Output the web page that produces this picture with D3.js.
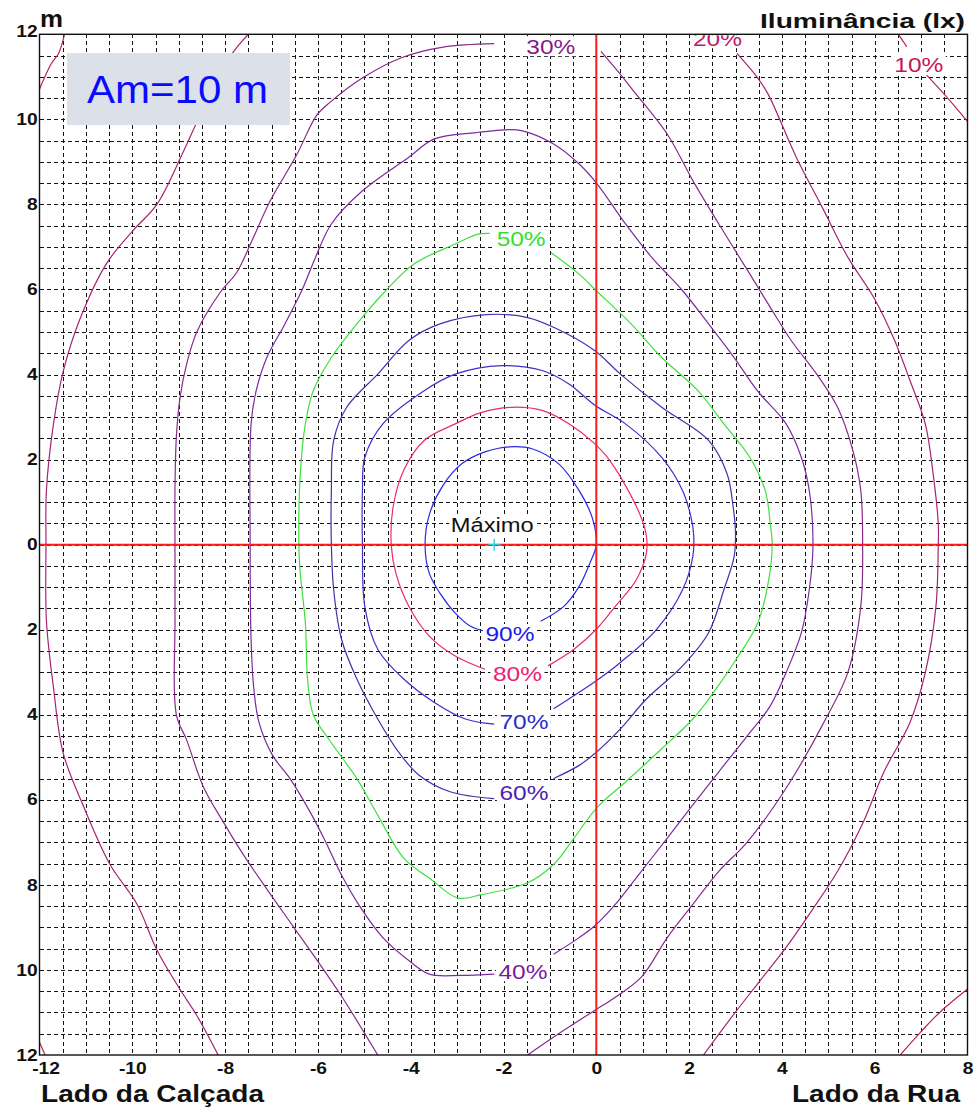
<!DOCTYPE html>
<html>
<head>
<meta charset="utf-8">
<script src="https://cdn.jsdelivr.net/npm/d3@7"></script>
<style>
  body { margin: 0; background: #fff; }
  svg { display: block; font-family: "Liberation Sans", Arial, sans-serif; }
</style>
</head>
<body>
<svg id="chart" width="973" height="1108"></svg>
<script>
// Isolux levels, % of the maximum illuminance
const levels = [90, 80, 70, 60, 50, 40, 30, 20, 10];

// Contour pieces in metres: [transversal x, longitudinal y]; y > 0 is forward, y < 0 behind
const contour90 = [[
  [-1.2,-1.8],[-0.7,-1.45],[-0.37,-0.98],[-0.14,-0.44],[0.0,0.0],[-0.09,0.64],[-0.37,1.27],[-0.81,1.9],
  [-1.37,2.25],[-1.87,2.3],[-2.4,2.18],[-2.9,1.9],[-3.3,1.4],[-3.6,0.7],[-3.69,0],[-3.6,-0.67],
  [-3.37,-1.14],[-3.04,-1.61],[-2.71,-1.92],[-2.45,-2.02]
]];
const contour80 = [[
  [-1.04,-2.85],[-0.48,-2.46],[0,-1.99],[0.41,-1.45],[0.86,-0.83],[1.08,-0.2],[1.08,0.2],[0.98,0.6],
  [0.69,1.27],[0.24,2.05],[-0.03,2.37],[-0.59,2.84],[-1.15,3.15],[-1.82,3.23],[-2.5,3.1],[-3.04,2.84],
  [-3.71,2.45],[-4.15,1.75],[-4.38,0.88],[-4.42,0],[-4.32,-0.67],[-4.04,-1.45],[-3.6,-2.15],
  [-3.04,-2.62],[-2.4,-2.93]
]];
const contour70 = [[
  [-0.92,-3.86],[-0.37,-3.47],[0,-3.2],[0.52,-2.77],[1.3,-1.99],[1.86,-1.06],[2.08,-0.28],[2.1,0.2],
  [2.05,0.6],[1.86,1.27],[1.41,2.05],[0.63,2.84],[-0.03,3.28],[-0.59,3.78],[-1.15,4.09],[-2.04,4.21],
  [-3.04,4.01],[-3.71,3.62],[-4.6,2.84],[-4.99,2.05],[-5.04,1.27],[-5.04,0],[-4.99,-1.45],
  [-4.71,-2.46],[-4.15,-3.16],[-3.49,-3.71],[-2.82,-4.1],[-2.2,-4.22]
]];
const contour60 = [[
  [-0.92,-5.5],[-0.37,-5.19],[0,-4.88],[0.52,-4.33],[1.08,-3.63],[1.86,-2.85],[2.42,-2.07],[2.75,-1.06],
  [2.97,-0.28],[3.0,0.3],[2.95,0.88],[2.82,1.66],[2.42,2.45],[1.41,3.23],[0.52,4.01],[-0.03,4.56],
  [-0.92,5.11],[-1.48,5.34],[-2.37,5.41],[-3.37,5.19],[-4.04,4.8],[-4.71,4.01],[-5.38,3.23],
  [-5.66,2.45],[-5.71,1.27],[-5.71,0],[-5.66,-1.06],[-5.49,-2.23],[-5.16,-3.16],[-4.71,-4.1],
  [-4.26,-4.88],[-3.82,-5.42],[-3.15,-5.81],[-2.2,-5.97]
]];
const contour50 = [[
  [-0.98,6.87],[-0.37,6.36],[0,5.97],[0.75,5.19],[1.41,4.4],[2.19,3.62],[2.75,2.84],[3.31,2.05],
  [3.64,1.27],[3.75,0.49],[3.79,0],[3.72,-0.8],[3.48,-1.84],[2.97,-2.77],[2.53,-3.47],[2.08,-4.1],
  [1.41,-4.8],[0.63,-5.58],[0,-6.2],[-0.48,-6.9],[-0.92,-7.52],[-1.48,-7.95],[-2.48,-8.23],
  [-2.98,-8.31],[-3.6,-7.84],[-4.15,-7.37],[-4.71,-6.36],[-5.16,-5.5],[-5.75,-4.6],[-6.1,-4.0],
  [-6.22,-3.2],[-6.27,-1.84],[-6.38,-0.67],[-6.41,0],[-6.38,1.66],[-6.27,2.84],[-6.1,3.62],
  [-5.71,4.4],[-5.16,5.19],[-4.54,5.97],[-3.93,6.6],[-3.04,7.07],[-2.55,7.3],[-2.3,7.32]
]];
const contour40 = [[
  [-0.92,-9.63],[-0.37,-9.24],[0,-8.93],[0.41,-8.46],[0.97,-7.68],[1.53,-6.9],[2.08,-6.12],[2.64,-5.34],
  [3.2,-4.57],[3.75,-3.79],[4.09,-3.01],[4.42,-2.07],[4.59,-1.06],[4.67,0],[4.59,1.27],[4.42,2.05],
  [4.09,2.84],[3.47,3.62],[2.97,4.4],[2.42,5.19],[1.86,5.97],[1.19,6.76],[0.63,7.54],[0.02,8.48],
  [-0.37,8.95],[-0.92,9.42],[-1.59,9.73],[-1.87,9.76],[-2.59,9.69],[-3.49,9.54],[-4.04,9.11],
  [-5.04,8.32],[-5.71,7.54],[-6.05,6.76],[-6.35,5.97],[-6.71,5.19],[-7.1,4.4],[-7.33,3.62],
  [-7.44,2.84],[-7.46,0],[-7.44,-2.23],[-7.38,-3.4],[-7.27,-4.18],[-6.98,-4.95],[-6.6,-5.5],
  [-6.16,-6.3],[-5.85,-6.95],[-5.5,-7.75],[-5.1,-8.5],[-4.6,-9.24],[-4.04,-9.78],[-3.6,-10.1],
  [-2.93,-10.13],[-2.2,-10.1]
]];
const contour30 = [
  [[-2.2,11.78],[-3.3,11.7],[-4.2,11.45],[-5.0,11.0],[-5.74,10.4],[-6.03,10.09],[-6.46,9.16],
   [-7.03,8.08],[-7.4,7.2],[-7.75,6.4],[-8.1,5.94],[-8.61,5.0],[-8.83,4.24],[-8.97,3.47],[-9.05,2.54],
   [-9.08,1.31],[-9.08,0],[-9.08,-1.8],[-9.05,-4.0],[-8.83,-4.59],[-8.47,-5.69],[-8.05,-6.5],
   [-7.6,-7.3],[-7.1,-8.1],[-6.55,-8.95],[-6.0,-9.8],[-5.5,-10.6],[-5.1,-11.3],[-4.71,-12.0]],
  [[0.1,11.6],[0.45,11.15],[0.8,10.67],[1.53,9.65],[2.08,8.56],[2.64,7.54],[3.31,6.36],[3.75,5.58],
   [4.2,4.8],[4.75,4.01],[5.2,3.23],[5.53,2.21],[5.7,1.27],[5.74,0],[5.7,-1.45],[5.42,-3.01],
   [4.87,-4.25],[4.31,-5.34],[3.75,-6.28],[3.2,-7.06],[2.64,-7.68],[2.08,-8.46],[1.53,-9.24],
   [0.97,-10.17],[0.41,-10.64],[-0.03,-10.95],[-0.7,-11.42],[-1.48,-12.0]]
];
const contour20 = [
  [[-7.5,12.0],[-7.89,11.48],[-8.54,10.09],[-8.9,9.24],[-9.47,8.0],[-9.98,7.39],[-10.55,6.62],
   [-11.13,5.3],[-11.49,4.07],[-11.7,2.83],[-11.85,1.29],[-11.86,0],[-11.85,-1.8],[-11.7,-3.35],
   [-11.49,-4.9],[-11.06,-6.13],[-10.48,-7.52],[-9.9,-8.45],[-9.47,-9.53],[-8.97,-10.46],
   [-8.61,-11.07],[-8.15,-12.0]],
  [[3.03,11.55],[3.46,11.0],[3.7,10.6],[4.31,9.11],[4.87,7.93],[5.42,6.76],[5.98,5.81],[6.43,4.8],
   [6.76,3.86],[7.09,2.84],[7.26,1.66],[7.37,0.49],[7.37,0],[7.32,-1.45],[7.09,-3.01],[6.76,-4.18],
   [6.2,-5.34],[5.76,-6.51],[5.2,-7.68],[4.64,-8.61],[4.09,-9.47],[3.53,-10.25],[2.86,-11.19],
   [2.31,-12.0]]
];
const contour10 = [
  [[-12,10.71],[-11.75,11.3],[-11.59,11.55],[-11.46,12.0]],
  [[6.51,12.0],[6.69,11.71]],
  [[7.12,11.04],[7.55,10.53],[8.0,9.95]],
  [[-12,-11.7],[-11.88,-12.0]],
  [[6.55,-12.0],[7.0,-11.45],[7.4,-11.0],[8.0,-10.45]]
];
const contours = [contour90, contour80, contour70, contour60, contour50, contour40, contour30, contour20, contour10];

// Where each level's label sits on its curve (metres)
const labelX = [-1.86, -1.70, -1.56, -1.56, -1.62, -1.58, -0.98, 2.61, 6.95];
const labelY = [-2.10, -3.04, -4.17, -5.82, 7.19, -10.03, 11.72, 11.91, 11.28];

// Position of the maximum
const maxPoint = [-2.2, 0];

// Axis ticks
const xTickValues = [-12, -10, -8, -6, -4, -2, 0, 2, 4, 6, 8];
const yTickValues = [12, 10, 8, 6, 4, 2, 0, -2, -4, -6, -8, -10, -12];

// ---- styling ----
const lineColors  = ["#2a2ae0", "#ea2a72", "#3a30cc", "#4a2cac", "#3ee03e", "#7c2aa0", "#8a2a8a", "#a52474", "#b8245a"];
const labelColors = ["#1c1ce8", "#f01e6e", "#2c2cc8", "#4a22b0", "#30e030", "#7a1aa0", "#8a1a8a", "#c0186a", "#c8145a"];

const svg = d3.select("#chart");
const W = 973, H = 1108;
const x = d3.scaleLinear().domain([-12, 8]).range([39.5, 967.5]);
const y = d3.scaleLinear().domain([-12, 12]).range([1055, 34.3]);

svg.append("rect").attr("width", W).attr("height", H).attr("fill", "#fff");

const defs = svg.append("defs");
defs.append("clipPath").attr("id", "plotClip").append("rect")
  .attr("x", x(-12)).attr("y", y(12))
  .attr("width", x(8) - x(-12)).attr("height", y(-12) - y(12));
defs.append("clipPath").attr("id", "labelClip").append("rect")
  .attr("x", x(-12)).attr("y", y(12) + 1)
  .attr("width", x(8) - x(-12)).attr("height", y(-12) - y(12) - 1);

const plot = svg.append("g").attr("clip-path", "url(#plotClip)");

// dashed 0.5 m grid
const gridX = d3.range(-11.5, 8, 0.5);
const gridY = d3.range(-11.5, 12, 0.5);
const grid = plot.append("g").attr("stroke", "#151515").attr("stroke-width", 1)
  .attr("stroke-dasharray", "4,3").attr("shape-rendering", "crispEdges");
grid.selectAll("line.v").data(gridX).join("line").attr("class", "v")
  .attr("x1", d => Math.round(x(d)) + 0.5).attr("x2", d => Math.round(x(d)) + 0.5)
  .attr("y1", y(12)).attr("y2", y(-12));
grid.selectAll("line.h").data(gridY).join("line").attr("class", "h")
  .attr("y1", d => Math.round(y(d)) + 0.5).attr("y2", d => Math.round(y(d)) + 0.5)
  .attr("x1", x(-12)).attr("x2", x(8));

// isolux curves
const line = d3.line().x(d => x(d[0])).y(d => y(d[1])).curve(d3.curveCatmullRom.alpha(0.5));
levels.forEach((lv, i) => {
  plot.append("g").attr("class", "iso-" + lv)
    .selectAll("path").data(contours[i]).join("path")
    .attr("d", line).attr("fill", "none")
    .attr("stroke", lineColors[i]).attr("stroke-width", 1.2);
});

// reference axes through the luminaire
plot.append("line").attr("x1", x(0)).attr("x2", x(0)).attr("y1", y(12)).attr("y2", y(-12))
  .attr("stroke", "#ff1a1a").attr("stroke-width", 2);
plot.append("line").attr("x1", x(-12)).attr("x2", x(8)).attr("y1", y(0)).attr("y2", y(0))
  .attr("stroke", "#ff1a1a").attr("stroke-width", 2);

// plot frame
svg.append("rect").attr("x", x(-12)).attr("y", y(12))
  .attr("width", x(8) - x(-12)).attr("height", y(-12) - y(12))
  .attr("fill", "none").attr("stroke", "#111").attr("stroke-width", 1.4);

// axes
const xAxis = d3.axisBottom(x).tickValues(xTickValues).tickFormat(d => String(d)).tickSize(0).tickPadding(7.5);
const yAxis = d3.axisLeft(y).tickValues(yTickValues).tickFormat(d => String(Math.abs(d))).tickSize(0).tickPadding(1.5);

const gx = svg.append("g").attr("transform", `translate(0,${y(-12)})`).call(xAxis);
const gy = svg.append("g").attr("transform", `translate(${x(-12)},0)`).call(yAxis);
[gx, gy].forEach(g => {
  g.select(".domain").remove();
  g.selectAll("text").attr("font-family", "Liberation Sans, Arial, sans-serif")
    .attr("font-size", 16).attr("font-weight", "bold").attr("fill", "#111")
    .attr("transform", "scale(1.2,1)");
});
gx.selectAll(".tick").filter(d => d === -12).select("text").attr("x", 5);
gy.selectAll(".tick").filter(d => d === 12).select("text").attr("dy", "0.15em");

// contour labels on white patches
const labels = svg.append("g").attr("clip-path", "url(#labelClip)");
levels.forEach((lv, i) => {
  const cx = x(labelX[i]), cy = y(labelY[i]);
  const g = labels.append("g").attr("transform", `translate(${cx},${cy})`);
  g.append("rect").attr("x", -27).attr("y", -10).attr("width", 54).attr("height", 20).attr("fill", "#fff");
  g.append("text").attr("text-anchor", "middle").attr("y", 7.5)
    .attr("font-size", 21).attr("fill", labelColors[i])
    .attr("textLength", 49).attr("lengthAdjust", "spacingAndGlyphs")
    .text(lv + "%");
});

// maximum marker
const mx = x(maxPoint[0]), my = y(maxPoint[1]);
svg.append("path").attr("d", `M${mx - 6},${my}H${mx + 6}M${mx},${my - 6}V${my + 6}`)
  .attr("stroke", "#3cc6d6").attr("stroke-width", 1.3);
const maxG = svg.append("g").attr("transform", `translate(${mx - 2},${my - 13})`);
maxG.append("rect").attr("x", -43).attr("y", -17).attr("width", 86).attr("height", 21).attr("fill", "#fff");
maxG.append("text").attr("text-anchor", "middle").attr("font-size", 20).attr("fill", "#111")
  .attr("textLength", 83).attr("lengthAdjust", "spacingAndGlyphs").text("Máximo");

// titles
svg.append("text").attr("x", 40).attr("y", 27).attr("font-size", 24).attr("font-weight", "bold")
  .attr("fill", "#111").attr("textLength", 23).attr("lengthAdjust", "spacingAndGlyphs").text("m");
svg.append("text").attr("x", 760).attr("y", 28).attr("font-size", 20).attr("font-weight", "bold")
  .attr("fill", "#111").attr("textLength", 205).attr("lengthAdjust", "spacingAndGlyphs").text("Iluminância (lx)");
svg.append("text").attr("x", 41).attr("y", 1102).attr("font-size", 23).attr("font-weight", "bold")
  .attr("fill", "#111").attr("textLength", 223).attr("lengthAdjust", "spacingAndGlyphs").text("Lado da Calçada");
svg.append("text").attr("x", 960).attr("y", 1102).attr("text-anchor", "end").attr("font-size", 23)
  .attr("font-weight", "bold").attr("fill", "#111").attr("textLength", 168)
  .attr("lengthAdjust", "spacingAndGlyphs").text("Lado da Rua");

// mounting height box
svg.append("rect").attr("x", 67).attr("y", 53).attr("width", 223).attr("height", 72).attr("fill", "#dce0e9");
svg.append("text").attr("x", 87).attr("y", 103).attr("font-size", 39).attr("fill", "#0a0aff")
  .attr("textLength", 181).attr("lengthAdjust", "spacingAndGlyphs").text("Am=10 m");
</script>
</body>
</html>
